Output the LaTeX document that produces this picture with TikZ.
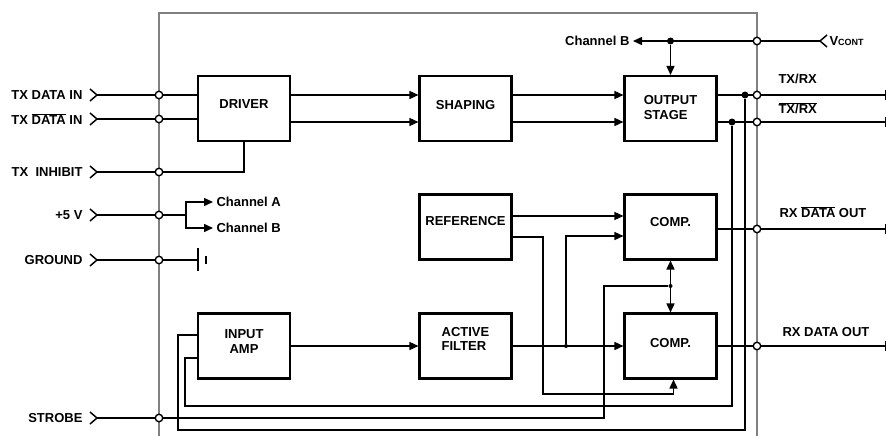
\documentclass[tikz,border=0pt]{standalone}
\usepackage{fontspec}
\setmainfont{Liberation Sans}
\usetikzlibrary{arrows.meta}
\newcommand{\ovl}[1]{$\overline{\mbox{#1}}$}

\begin{document}
\begin{tikzpicture}[x=1pt,y=-1pt,
  font=\fontsize{13}{14.5}\selectfont\bfseries,
  blk/.style={draw,line width=2.1pt,minimum width=92pt,minimum height=65pt,inner sep=0pt,align=center,text depth=8pt},
  pin/.style={circle,draw,fill=white,line width=1.4pt,minimum size=7.5pt,inner sep=0pt},
  dot/.style={circle,fill,minimum size=7pt,inner sep=0pt},
  sdot/.style={circle,fill,minimum size=4pt,inner sep=0pt},
  wire/.style={line width=1.5pt},
  arr/.style={wire,-{Triangle[length=9pt,width=8pt]}},
  dbl/.style={wire,{Triangle[length=9pt,width=8pt]}-{Triangle[length=9pt,width=8pt]}},
  outend/.style={wire,-{Bar[width=10pt]}}]
  \useasboundingbox (0,0) rectangle (887,436);
  \draw[gray,line width=2.7pt] (159,436) |- (757,13) -- (757,436);

  \node[blk] (driver) at (244,108.5) {DRIVER};
  \node[blk] (shaping) at (465.5,108.5) {SHAPING};
  \node[blk,align=left,text depth=2pt] (output) at (670.5,108.5) {OUTPUT\\STAGE};
  \node[blk,text depth=12pt] (reference) at (465.5,227) {REFERENCE};
  \node[blk,text depth=10pt] (compa) at (670.5,227) {COMP.};
  \node[blk,text depth=9pt] (inamp) at (244,346) {INPUT\\AMP};
  \node[blk,align=left,text depth=14pt] (filter) at (465.5,346) {ACTIVE\\FILTER};
  \node[blk,text depth=6pt] (compb) at (670.5,346) {COMP.};

  \foreach \n/\y/\t in {1/95/{TX DATA IN},2/119/{TX \ovl{DATA} IN},3/172/{TX\ \ INHIBIT},4/215/{+5 V},5/260/{GROUND},6/418/{STROBE}}{
    \coordinate (c\n) at (97,\y);
    \draw[wire] (c\n) ++(-7,-6) -- (c\n) -- ++(-7,6);
    \node[anchor=east] (l\n) at (86,\y) {\t};
    \node[pin] (p\n) at (159,\y) {};
    \draw[wire] (c\n) -- (p\n);
  }
  \foreach \n/\y in {1/41,2/95,3/122,4/229,5/346}
    \node[pin] (q\n) at (757,\y) {};

  \draw[wire] (p1) -- (p1 -| driver.west);
  \draw[wire] (p2) -- (p2 -| driver.west);
  \draw[wire] (p3) -| (driver.south);
  \draw[arr] (driver.east |- q2) -- (shaping.west |- q2);
  \draw[arr] (driver.east |- q3) -- (shaping.west |- q3);
  \draw[arr] (shaping.east |- q2) -- (output.west |- q2);
  \draw[arr] (shaping.east |- q3) -- (output.west |- q3);

  \node[dot] (da) at (745,95) {};
  \node[dot] (db) at (732,122) {};
  \draw[wire] (output.east |- q2) -- (q2);
  \draw[wire] (output.east |- q3) -- (q3);
  \coordinate (e2) at (886,95);
  \coordinate (e3) at (886,122);
  \draw[outend] (q2) -- (e2);
  \draw[outend] (q3) -- (e3);
  \node[anchor=west] (ltx) at (775,79) {TX/RX};
  \node[anchor=west] (ltxn) at (775,108) {\ovl{TX/RX}};

  \coordinate (vc) at (820,41);
  \draw[wire] (vc) ++(7,-6) -- (vc) -- ++(7,6);
  \node[anchor=west] (lvc) at (826,41) {V{\fontsize{9}{10}\selectfont CONT}};
  \node[anchor=east] (chB) at (633,41) {Channel B};
  \node[dot] (dc) at (670.5,41) {};
  \draw[wire] (vc) -- (q1);
  \draw[arr] (q1) -- (chB);
  \draw[arr] (dc) -- (output.north);

  \coordinate (br) at (186,215);
  \node[anchor=west] (chA1) at (213,202) {Channel A};
  \node[anchor=west] (chB1) at (213,228) {Channel B};
  \draw[wire] (p4) -- (br);
  \draw[arr] (br) |- (chA1.west);
  \draw[arr] (br) |- (chB1.west);

  \coordinate (gnd) at (198,260);
  \draw[wire] (p5) -- (gnd);
  \draw[line width=1.8pt] (gnd) ++(0,-12) -- ++(0,23);
  \draw[line width=2.4pt] (gnd) ++(8,-4) -- ++(0,8);

  \coordinate (ra) at ([yshift=11pt]reference.east);
  \coordinate (rb) at ([yshift=-10pt]reference.east);
  \draw[arr] (ra) -- (ra -| compa.west);
  \draw[arr] (rb) -| (543,394) -| ([xshift=3pt]compb.south);

  \draw[arr] (inamp.east) -- (filter.west);
  \node[sdot] (fj) at (566,346) {};
  \draw[arr] (filter.east) -- (compb.west);
  \draw[arr] (fj) |- ([yshift=-9pt]compa.west);

  \node[sdot] (sj) at (670.5,286) {};
  \draw[dbl] (compa.south) -- (compb.north);
  \draw[wire] (p6) -| (604,286) -- (sj);

  \coordinate (ia) at ([yshift=11pt]inamp.west);
  \coordinate (ib) at ([yshift=-12pt]inamp.west);
  \draw[wire] (ia) -| (178,430) -| (da);
  \draw[wire] (ib) -| (185,406) -| (db);

  \draw[wire] (compa.east |- q4) -- (q4);
  \draw[wire] (compb.east) -- (q5);
  \coordinate (e4) at (886,229);
  \coordinate (e5) at (886,346);
  \draw[outend] (q4) -- (e4);
  \draw[outend] (q5) -- (e5);
  \node[anchor=west] (lrxn) at (776,212) {RX \ovl{DATA} OUT};
  \node[anchor=west] (lrx) at (779,332) {RX DATA OUT};
\end{tikzpicture}
\end{document}
